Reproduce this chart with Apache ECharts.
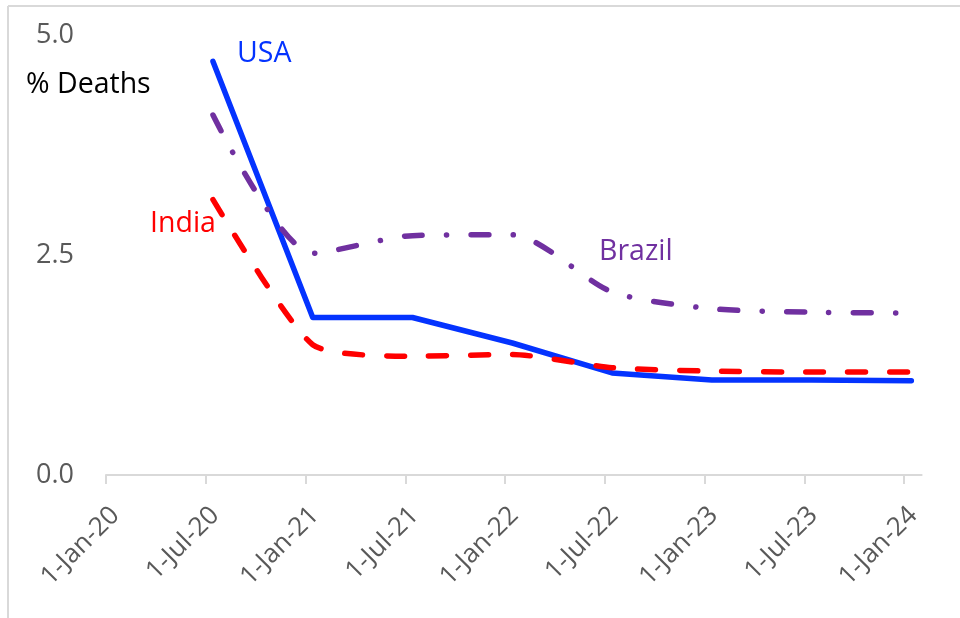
<!DOCTYPE html>
<html>
<head>
<meta charset="utf-8">
<script src="https://cdn.jsdelivr.net/npm/echarts@6/dist/echarts.min.js"></script>
<style>
html,body{margin:0;padding:0;background:#fff;}
#chart{width:960px;height:618px;}
</style>
</head>
<body>
<div id="chart"></div>
<script>
// ---- data ----
const dates = ['14-Jul-20','14-Jan-21','14-Jul-21','14-Jan-22','14-Jul-22','14-Jan-23','14-Jul-23','14-Jan-24'];
const usa    = [4.70, 1.79, 1.79, 1.50, 1.16, 1.08, 1.08, 1.07];
const india  = [3.13, 1.48, 1.35, 1.37, 1.22, 1.18, 1.17, 1.17];
const brazil = [4.09, 2.52, 2.72, 2.73, 2.08, 1.89, 1.85, 1.84];
const xTickLabels = ['1-Jan-20','1-Jul-20','1-Jan-21','1-Jul-21','1-Jan-22','1-Jul-22','1-Jan-23','1-Jul-23','1-Jan-24'];
const yTicks = [0, 2.5, 5];

const MONTHS = ['Jan','Feb','Mar','Apr','May','Jun','Jul','Aug','Sep','Oct','Nov','Dec'];
function toMonths(s){
  const p = s.split('-');
  const d = parseInt(p[0],10), m = MONTHS.indexOf(p[1]), y = 2000 + parseInt(p[2],10);
  return (y - 2020) * 12 + m + (d - 1) / 30;
}
const xTickValues = xTickLabels.map(toMonths);
const labelByValue = {};
xTickLabels.forEach((l,i)=>{ labelByValue[Math.round(xTickValues[i]*1000)] = l; });
const pts = arr => arr.map((v,i)=>[toMonths(dates[i]), v]);

const FONT = "'Open Sans', sans-serif";
const LFONT = "28.5px 'Open Sans', sans-serif";
const chart = echarts.init(document.getElementById('chart'), null, {renderer:'canvas'});
chart.setOption({
  animation: false,
  backgroundColor: '#ffffff',
  grid: {left: 106, top: 35, width: 815.6, height: 440, containLabel: false},
  xAxis: {
    type: 'value', min: 0, max: 49.05,
    axisLine: {show: true, lineStyle: {color: '#D9D9D9', width: 2}},
    axisTick: {show: true, length: 9, customValues: xTickValues, lineStyle: {color: '#D9D9D9', width: 2}},
    splitLine: {show: false},
    axisLabel: {
      customValues: xTickValues,
      rotate: 45, margin: 27, verticalAlign: 'top', align: 'right',
      color: '#595959', fontFamily: FONT, fontSize: 26,
      formatter: v => labelByValue[Math.round(v*1000)] || ''
    }
  },
  yAxis: {
    type: 'value', min: 0, max: 5, interval: 2.5,
    axisLine: {show: false}, axisTick: {show: false}, splitLine: {show: false},
    axisLabel: {
      customValues: yTicks,
      margin: 32, color: '#595959', fontFamily: FONT, fontSize: 27,
      formatter: v => v.toFixed(1)
    }
  },
  series: [
    {name: 'USA', type: 'line', data: pts(usa), showSymbol: false, symbol: 'none',
     lineStyle: {color: '#0433FF', width: 5.5, cap: 'round', join: 'round'}},
    {name: 'India', type: 'line', data: pts(india), showSymbol: false, symbol: 'none', smooth: 0.2,
     lineStyle: {color: '#FF0000', width: 5.5, type: [17.8, 24.2], cap: 'round', join: 'round'}},
    {name: 'Brazil', type: 'line', data: pts(brazil), showSymbol: false, symbol: 'none', smooth: 0.25,
     lineStyle: {color: '#7030A0', width: 5.5, type: [17.8, 24.4, 0.1, 24.4], cap: 'round', join: 'round'}}
  ],
  graphic: [
    {type: 'line', shape: {x1: 8, y1: 6, x2: 960, y2: 6}, style: {stroke: '#D9D9D9', lineWidth: 2}},
    {type: 'line', shape: {x1: 8, y1: 6, x2: 8, y2: 618}, style: {stroke: '#D9D9D9', lineWidth: 2}},
    {type: 'text', left: 26, top: 70, style: {text: '% Deaths', fill: '#000000', font: LFONT}},
    {type: 'text', left: 237, top: 39, style: {text: 'USA', fill: '#0433FF', font: LFONT}},
    {type: 'text', left: 150, top: 209, style: {text: 'India', fill: '#FF0000', font: LFONT}},
    {type: 'text', left: 599, top: 237, style: {text: 'Brazil', fill: '#7030A0', font: LFONT}}
  ]
});
</script>
</body>
</html>
